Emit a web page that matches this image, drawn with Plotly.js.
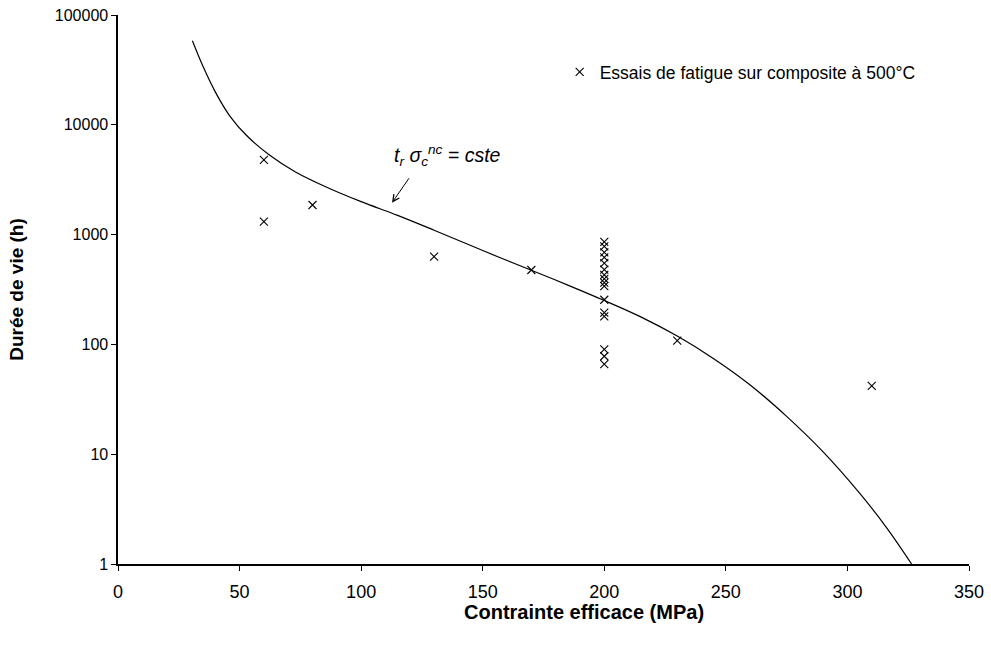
<!DOCTYPE html>
<html>
<head>
<meta charset="utf-8">
<script src="https://cdn.plot.ly/plotly-3.0.1.min.js"></script>
<style>
html,body{margin:0;padding:0;background:#fff;}
#chart{width:991px;height:646px;}
</style>
</head>
<body>
<div id="chart"></div>
<script>
// Fatigue tests on composite at 500°C
const testStress = [60, 60, 80, 130, 170,
  200, 200, 200, 200, 200, 200, 200, 200, 200, 200,
  200, 200, 200, 200, 200, 200, 230, 310];
const testLife = [4800, 1310, 1860, 630, 476,
  860, 780, 690, 620, 550, 480, 430, 395, 365, 340,
  255, 195, 180, 90, 78, 66, 108, 42];

// Fitted curve  t_r * sigma_c^nc = cste
const curveStress = [30.6, 35, 40, 46, 53, 62, 73, 87, 100, 115, 130, 150, 170, 185,
  200, 215, 230, 245, 260, 275, 290, 305, 316, 326.4];
const curveLife = [58300, 33900, 19950, 12020, 7940, 5370, 3720, 2630, 1995, 1496, 1096,
  716, 473, 347, 251, 178, 119, 74.1, 42.7, 22.1, 10.5, 4.42, 2.16, 1.0];

const yTickVals = [1, 10, 100, 1000, 10000, 100000];
const yTickText = ['1', '10', '100', '1000', '10000', '100000'];
const xTickVals = [0, 50, 100, 150, 200, 250, 300, 350];

const legendName = 'Essais de fatigue sur composite à 500°C';
const xTitle = 'Contrainte efficace (MPa)';
const yTitle = 'Durée de vie (h)';
const curveLabel = '<i>t<sub>r</sub> σ<sub>c</sub><sup>nc</sup> = cste</i>';
const arrowTarget = [112.7, 1950];

const FONT = 'Liberation Sans, Arial, sans-serif';
const PW = 991 - 118 - 22, PH = 646 - 15 - 82;

const traces = [
  {
    x: curveStress, y: curveLife, type: 'scatter', mode: 'lines',
    line: {color: '#000', width: 1.2, shape: 'spline', smoothing: 1},
    showlegend: false, hoverinfo: 'skip'
  },
  {
    x: testStress, y: testLife, type: 'scatter', mode: 'markers',
    name: legendName,
    marker: {symbol: 'x-thin', size: 8, color: '#000', line: {color: '#000', width: 1.1}}
  }
];

const layout = {
  width: 991, height: 646,
  paper_bgcolor: '#fff', plot_bgcolor: '#fff',
  margin: {l: 118, r: 22, t: 15, b: 82},
  font: {family: FONT, size: 15, color: '#000'},
  xaxis: {
    range: [0, 350], tickmode: 'array', tickvals: xTickVals,
    showgrid: false, zeroline: false,
    showline: true, linecolor: '#000', linewidth: 1.6,
    ticks: 'outside', ticklen: 5, tickwidth: 1, tickcolor: '#000',
    ticklabelstandoff: 6,
    tickfont: {family: FONT, size: 18}
  },
  yaxis: {
    type: 'log', range: [0, 5], tickmode: 'array',
    tickvals: yTickVals, ticktext: yTickText,
    showgrid: false, zeroline: false,
    showline: true, linecolor: '#000', linewidth: 1.6,
    ticks: 'outside', ticklen: 5, tickwidth: 1, tickcolor: '#000',
    tickfont: {family: FONT, size: 16},
    title: {text: yTitle, font: {family: FONT, size: 19, weight: 'bold'}, standoff: 26}
  },
  legend: {
    x: 0.519, y: 0.896, xanchor: 'left', yanchor: 'middle',
    bgcolor: 'rgba(0,0,0,0)', font: {family: FONT, size: 17.5},
    itemwidth: 30
  },
  annotations: [
    {
      x: arrowTarget[0], y: Math.log10(arrowTarget[1]), xref: 'x', yref: 'y',
      text: '', showarrow: true, arrowhead: 5, arrowsize: 1.3, arrowwidth: 1,
      arrowcolor: '#000', ax: 18, ay: -26
    },
    {
      x: (392 - 118) / PW, y: (564 - 155) / PH,
      xref: 'paper', yref: 'paper', xanchor: 'left', yanchor: 'middle',
      text: curveLabel, showarrow: false, font: {family: FONT, size: 19.5}
    },
    {
      x: (584 - 118) / PW, y: (564 - 612) / PH,
      xref: 'paper', yref: 'paper', xanchor: 'center', yanchor: 'middle',
      text: '<b>' + xTitle + '</b>', showarrow: false, font: {family: FONT, size: 20}
    }
  ]
};

Plotly.newPlot('chart', traces, layout, {displayModeBar: false, staticPlot: true});
</script>
</body>
</html>
